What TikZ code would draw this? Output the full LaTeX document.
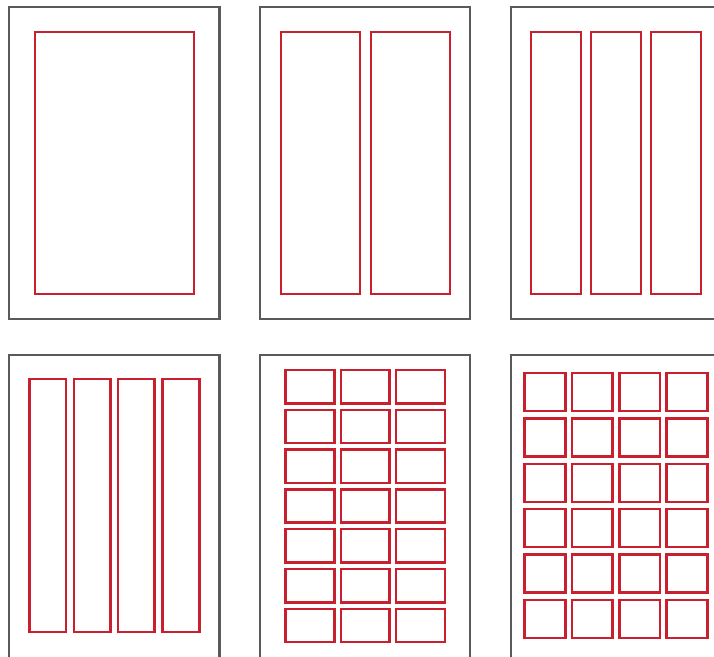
\documentclass[tikz,border=0pt]{standalone}
\definecolor{framegray}{HTML}{5A5A5A}
\definecolor{gridred}{HTML}{C8202F}
\begin{document}
\begin{tikzpicture}[x=1pt,y=-1pt,
  pageframe/.style={draw=framegray,line width=2.4pt},
  column/.style={draw=gridred,line width=2.5pt}]
\useasboundingbox (0,0) rectangle (714,656);
\clip (0,0) rectangle (714,656);
% page frames
\draw[pageframe] (9,7) rectangle (219.5,319);
\draw[pageframe] (260,7) rectangle (470,319);
\draw[pageframe] (510.7,7) rectangle (720.7,319);
\draw[pageframe] (9,355) rectangle (219.5,667);
\draw[pageframe] (260,355) rectangle (470,667);
\draw[pageframe] (510.7,355) rectangle (720.7,667);
% panel 1
\draw[column] (35,32) rectangle (194,294);
% panel 2
\draw[column] (281,32) rectangle (360,294);
\draw[column] (371,32) rectangle (450,294);
% panel 3
\draw[column] (531,32) rectangle (581,294);
\draw[column] (591,32) rectangle (641,294);
\draw[column] (651,32) rectangle (701,294);
% panel 4
\draw[column] (29.5,379) rectangle (66,632);
\draw[column] (74,379) rectangle (110.5,632);
\draw[column] (118,379) rectangle (154.5,632);
\draw[column] (162.5,379) rectangle (199.5,632);
% panel 5
\foreach \i in {0,1,2}{
  \foreach \j in {0,...,6}{
    \draw[column] ({285.7+55.2*\i},{370+39.8*\j}) rectangle ++(48.7,33.3);
  }
}
% panel 6
\foreach \i in {0,1,2,3}{
  \foreach \j in {0,...,5}{
    \draw[column] ({524.7+47.3*\i},{373+45.4*\j}) rectangle ++(40.7,38);
  }
}
\end{tikzpicture}
\end{document}
